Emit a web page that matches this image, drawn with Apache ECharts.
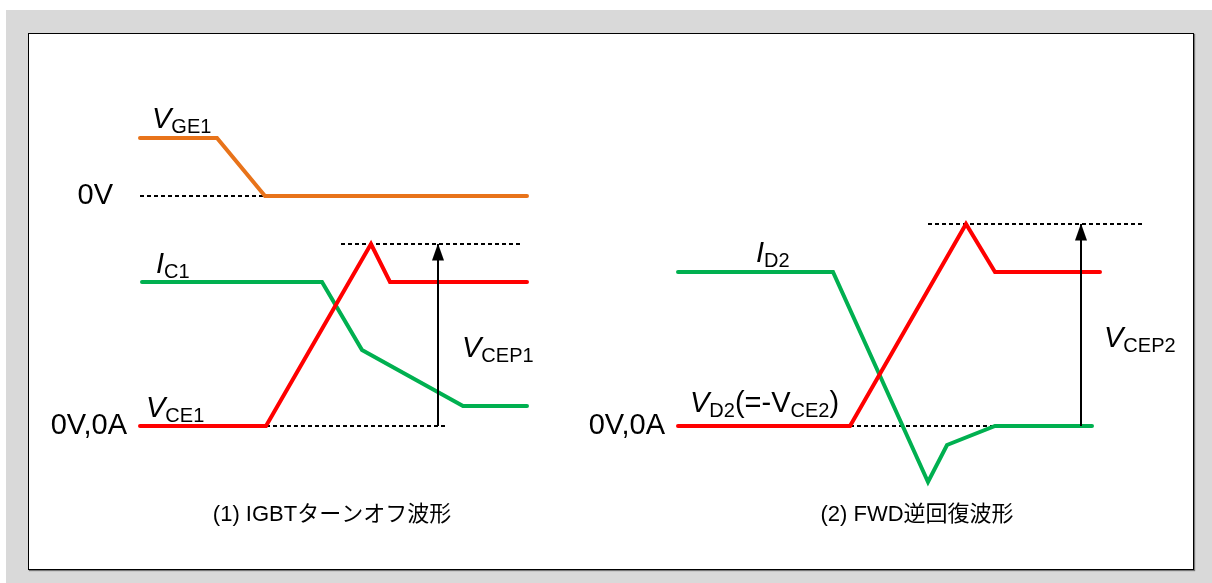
<!DOCTYPE html>
<html>
<head>
<meta charset="utf-8">
<script src="https://cdn.jsdelivr.net/npm/echarts@6/dist/echarts.min.js"></script>
<style>
  html, body { margin: 0; padding: 0; background: #fff; }
  .wrap { position: relative; width: 1212px; height: 583px; overflow: hidden; }
  .shade { position: absolute; left: 6px; top: 10px; right: 0; bottom: 0; background: #d9d9d9; }
  .frame { position: absolute; left: 28px; top: 33px; width: 1164px; height: 535px;
           background: #fff; border: 1px solid #000; box-shadow: 1px 1px 1px #777; }
  #myChart { position: absolute; left: 0; top: 0; width: 1212px; height: 583px; }
</style>
</head>
<body>
<div class="wrap">
  <div class="shade"></div>
  <div class="frame"></div>
  <div id="myChart"></div>
</div>
<script>
  // (1) IGBT turn-off : [time, level]  level 0 = 0V / 0A
  const vge1 = [[0, 288], [77, 288], [125, 230], [387, 230]];
  const ic1 = [[2, 144], [182, 144], [222, 76], [323, 20], [387, 20]];
  const vce1 = [[0, 0], [126, 0], [231, 182], [250, 144], [387, 144]];
  const zeroV1 = [[0, 230], [125, 230]];
  const peak1 = [[201, 182], [382, 182]];
  const base1 = [[126, 0], [307, 0]];
  const arrow1 = [[298, 0], [298, 182]];

  // (2) FWD reverse recovery
  const id2 = [[0, 154], [155, 154], [250, -56], [269, -19], [317, 0], [414, 0]];
  const vd2 = [[0, 0], [172, 0], [288, 202], [317, 154], [422, 154]];
  const peak2 = [[250, 202], [467, 202]];
  const base2 = [[172, 0], [315, 0]];
  const arrow2 = [[403, 0], [403, 202]];

  const ORANGE = '#e8731a', RED = '#ff0000', GREEN = '#00b050';
  const FONT = '"Liberation Sans", Arial, "Noto Sans CJK JP", sans-serif';

  let myChart = echarts.init(document.getElementById('myChart'));

  function wave(data, color, g) {
    return {
      type: 'line', xAxisIndex: g, yAxisIndex: g, data: data,
      symbol: 'none', silent: true, animation: false, z: 3,
      lineStyle: { color: color, width: 4, cap: 'round', join: 'miter' }
    };
  }
  function dash(data, g) {
    return {
      type: 'line', xAxisIndex: g, yAxisIndex: g, data: data,
      symbol: 'none', silent: true, animation: false, z: 2,
      lineStyle: { color: '#000', width: 2, type: [4, 3] }
    };
  }
  function arrow(data, g) {
    return {
      type: 'line', xAxisIndex: g, yAxisIndex: g, silent: true, animation: false, z: 4,
      data: [
        { value: data[0], symbol: 'none' },
        { value: data[1], symbol: 'triangle', symbolSize: [12, 17], symbolOffset: [0, 8] }
      ],
      showSymbol: true,
      itemStyle: { color: '#000' },
      lineStyle: { color: '#000', width: 2 }
    };
  }

  // 文字ラベル（下付き文字は rich で）
  const rich = {
    v: { fontSize: 29, fontStyle: 'italic', lineHeight: 34, fontFamily: FONT, color: '#000' },
    n: { fontSize: 29, lineHeight: 34, fontFamily: FONT, color: '#000' },
    s: { fontSize: 20, lineHeight: 18, verticalAlign: 'bottom', fontFamily: FONT, color: '#000' }
  };
  function label(x, y, text, align) {
    return {
      type: 'text', x: x, y: y, z: 100, silent: true,
      style: { text: text, rich: rich, align: align || 'left', verticalAlign: 'middle' }
    };
  }
  function caption(x, y, text) {
    return {
      type: 'text', x: x, y: y, z: 100, silent: true,
      style: { text: text, fontSize: 22, fontFamily: FONT, fill: '#000', align: 'center', verticalAlign: 'middle' }
    };
  }

  const yAxisCommon = { type: 'value', min: -70, max: 330, show: false };

  myChart.setOption({
    animation: false,
    grid: [
      { left: 140, top: 96, width: 400, height: 400 },
      { left: 678, top: 96, width: 480, height: 400 }
    ],
    xAxis: [
      { type: 'value', gridIndex: 0, min: 0, max: 400, show: false },
      { type: 'value', gridIndex: 1, min: 0, max: 480, show: false }
    ],
    yAxis: [
      Object.assign({ gridIndex: 0 }, yAxisCommon),
      Object.assign({ gridIndex: 1 }, yAxisCommon)
    ],
    series: [
      dash(zeroV1, 0), dash(peak1, 0), dash(base1, 0),
      wave(vge1, ORANGE, 0), wave(ic1, GREEN, 0), wave(vce1, RED, 0),
      arrow(arrow1, 0),
      dash(peak2, 1), dash(base2, 1),
      wave(id2, GREEN, 1), wave(vd2, RED, 1),
      arrow(arrow2, 1)
    ],
    graphic: [
      label(152, 120, '{v|V}{s|GE1}'),
      label(113, 196, '{n|0V}', 'right'),
      label(156, 265, '{v|I}{s|C1}'),
      label(462, 349, '{v|V}{s|CEP1}'),
      label(146, 409, '{v|V}{s|CE1}'),
      label(127, 426, '{n|0V,0A}', 'right'),
      caption(332, 515, '(1) IGBTターンオフ波形'),
      label(756, 254, '{v|I}{s|D2}'),
      label(690, 404, '{v|V}{s|D2}{n|(=-V}{s|CE2}{n|)}'),
      label(665, 426, '{n|0V,0A}', 'right'),
      label(1104, 339, '{v|V}{s|CEP2}'),
      caption(917, 515, '(2) FWD逆回復波形')
    ]
  });
</script>
</body>
</html>
